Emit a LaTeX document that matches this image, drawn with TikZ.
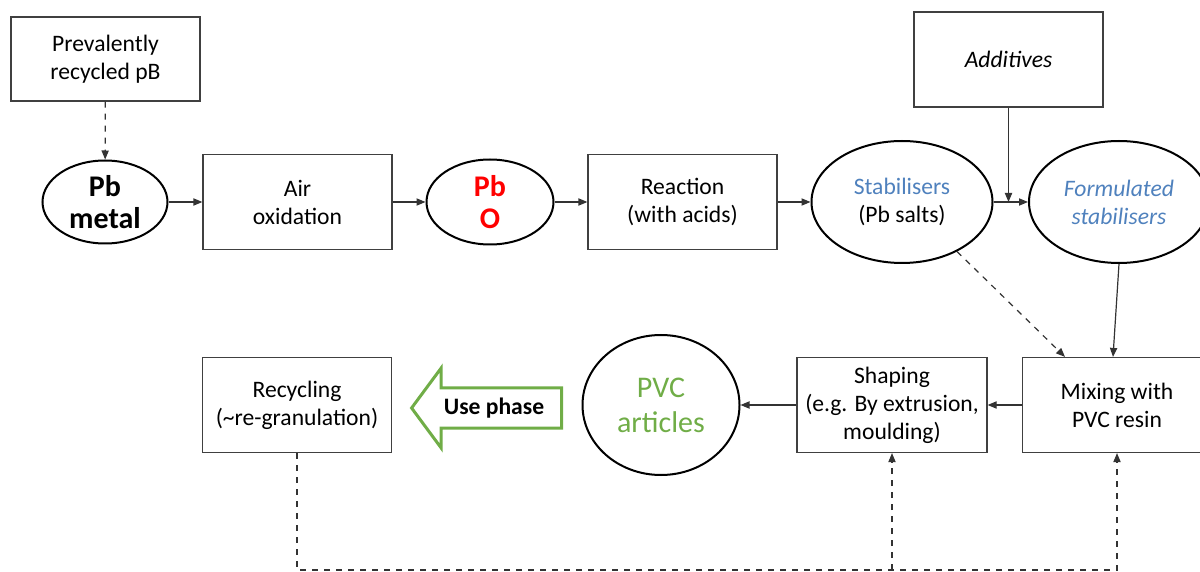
\documentclass[tikz,border=0pt]{standalone}
\usepackage{fontspec}
\setmainfont{Carlito}
\usetikzlibrary{arrows.meta,shapes.geometric,shapes.arrows,positioning}
\definecolor{stabblue}{RGB}{79,129,189}
\definecolor{pvcgreen}{RGB}{112,173,71}
\tikzset{
  procbox/.style={draw=black!75, line width=0.6pt, minimum width=94.5pt, minimum height=47.5pt,
    align=center, inner sep=0pt, font=\fontsize{11.8}{14}\selectfont},
  matnode/.style={ellipse, draw=black, line width=1pt, align=center, inner sep=0pt,
    font=\fontsize{11.8}{14}\selectfont},
  flow/.style={-{Triangle[length=4.5pt,width=3.6pt]}, line width=0.6pt, draw=black!80},
  dashflow/.style={flow, dashed},
  usearrow/.style={single arrow, shape border rotate=180, draw=pvcgreen, line width=1.5pt,
    fill=white, minimum height=75pt, inner ysep=4.2pt, inner xsep=2pt,
    single arrow head extend=10pt, single arrow tip angle=107,
    font=\bfseries\fontsize{11.8}{14}\selectfont}
}
\begin{document}
\begin{tikzpicture}[x=0.5pt,y=-0.5pt]
  \useasboundingbox (0,0) rectangle (1200,572);
  \clip (0,0) rectangle (1200,572);

  % upper row
  \node[procbox, minimum height=42pt] (source) at (105.5,59) {Prevalently\\recycled pB};
  \node[matnode, minimum width=62.5pt, minimum height=41.5pt,
        font=\bfseries\fontsize{15}{16}\selectfont] (pbmetal) at (105,202) {Pb\\metal};
  \node[procbox] (oxid) at (297.5,202) {Air\\oxidation};
  \node[matnode, minimum width=63.5pt, minimum height=42.5pt, text=red,
        font=\bfseries\fontsize{15}{16}\selectfont] (pbo) at (490,202) {Pb\\O};
  \node[procbox] (react) at (682.5,202) {Reaction\\(with acids)};
  \node[matnode, minimum width=90.5pt, minimum height=61pt] (stab) at (902,202)
        {\textcolor{stabblue}{Stabilisers}\\(Pb salts)};
  \node[procbox] (addit) at (1008.5,59.5) {\itshape Additives};
  \node[matnode, minimum width=90pt, minimum height=61pt, text=stabblue,
        font=\itshape\fontsize{11.8}{14}\selectfont] (formstab) at (1119,202)
        {Formulated\\stabilisers};

  % lower row
  \node[procbox] (mixing) at (1117,405) {Mixing with\\PVC resin};
  \node[procbox, minimum width=95pt] (shaping) at (892,405) {Shaping\\(e.g. By extrusion,\\moulding)};
  \node[matnode, minimum width=78.5pt, minimum height=70pt, text=pvcgreen,
        font=\fontsize{15}{17.5}\selectfont] (pvc) at (661,405) {PVC\\articles};
  \node[usearrow] (use) at (494,408) {Use phase};
  \node[procbox] (recycle) at (297,405) {Recycling\\(\textasciitilde re-granulation)};

  % connectors
  \draw[dashflow] (source) -- (pbmetal);
  \draw[flow] (pbmetal) -- (oxid);
  \draw[flow] (oxid) -- (pbo);
  \draw[flow] (pbo) -- (react);
  \draw[flow] (react) -- (stab);
  \draw[flow] (stab) -- (formstab);
  \coordinate (join) at (addit.south |- stab.east);
  \draw[flow] (addit.south) -- (join);
  \draw[flow] (formstab.south) -- ([xshift=-2pt]mixing.north);
  \draw[dashflow] (stab.-42) -- ([xshift=-26pt]mixing.north);
  \draw[flow] (mixing) -- (shaping);
  \draw[flow] (shaping) -- (pvc);

  % recycling loop
  \coordinate (loop) at (297,570);
  \draw[dashflow] (recycle.south) -- (loop) -| (mixing.south);
  \draw[dashflow] (shaping.south |- loop) -- (shaping.south);
\end{tikzpicture}
\end{document}
